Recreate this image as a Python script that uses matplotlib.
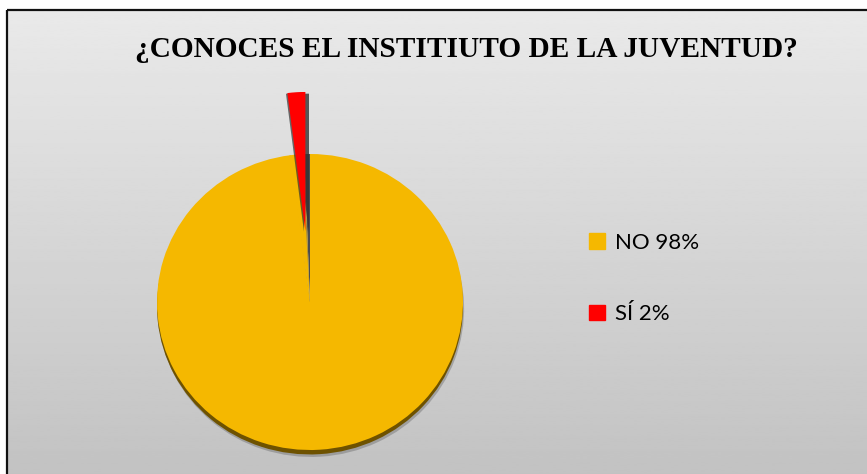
import numpy as np
import matplotlib
matplotlib.use("Agg")
import matplotlib.pyplot as plt
import matplotlib.patheffects as pe
from matplotlib.patches import Rectangle, Wedge

# survey answers
labels = ["SÍ 2%", "NO 98%"]
values = [2, 98]
colors = ["#ff0000", "#f5b800"]
legend_order = [1, 0]
title = "¿CONOCES EL INSTITIUTO DE LA JUVENTUD?"

W, H = 867, 474
fig = plt.figure(figsize=(W / 100, H / 100), dpi=100)
fig.patch.set_facecolor("white")

# gray gradient panel with a dark frame on top/left
bg = fig.add_axes([0, 0, 1, 1])
bg.set_xlim(0, W)
bg.set_ylim(H, 0)
bg.axis("off")
grad = np.linspace(0.915, 0.76, 256).reshape(-1, 1)
bg.imshow(grad, cmap="gray", vmin=0, vmax=1, aspect="auto",
          extent=(7, W + 5, H + 5, 10), zorder=0)
bg.add_patch(Rectangle((7, 10), W, H, fill=False, edgecolor="#111111",
                       linewidth=1.6, zorder=1))

bg.text(466, 49, title, ha="center", va="center", fontsize=21.2,
        fontweight="bold", family="Liberation Serif", color="black")

# pie, slightly squashed vertically
cx, cy, rx, ry = 310, 302, 153, 148
box = 260
ax = fig.add_axes([(cx - box) / W, 1 - (cy + box) / H, 2 * box / W, 2 * box / H])
wedges, _ = ax.pie(values, colors=colors, startangle=90, counterclock=True,
                   explode=[0.48, 0], wedgeprops=dict(linewidth=0))
ax.set_aspect("auto")
ax.set_xlim(-box / rx, box / rx)
ax.set_ylim(-box / ry, box / ry)
ax.axis("off")

# gap left behind by the pulled-out slice: the yellow side wall hides
# most of it, leaving a dark seam next to the slice edge
t1, t2 = wedges[0].theta1, wedges[0].theta2
ax.add_patch(Wedge((0, 0), 1, t1, t1 + 2.2, facecolor="#4d4d4d",
                   linewidth=0, zorder=2))
ax.add_patch(Wedge((0, 0), 1, t1 + 2.2, t2 + 0.5, facecolor=colors[1],
                   linewidth=0, zorder=2))
ax.add_patch(Wedge((0, 0), 1, t1 + 2.2, t1 + 3.0, facecolor="#6a6a6a",
                   linewidth=0, alpha=0.6, zorder=2))

wedges[0].set_radius(0.94)
wedges[0].set_zorder(3)
wedges[0].set_path_effects([
    pe.SimplePatchShadow(offset=(2.6, -1.2), shadow_rgbFace="#333333", alpha=0.8),
    pe.SimplePatchShadow(offset=(-1.0, -0.5), shadow_rgbFace="#333333", alpha=0.7),
    pe.Normal()])
wedges[1].set_path_effects([
    pe.SimplePatchShadow(offset=(0.8, -5), shadow_rgbFace="#555555", alpha=0.35),
    pe.SimplePatchShadow(offset=(0, -3.2), shadow_rgbFace="#6e5200", alpha=1),
    pe.Normal()])

# legend
handles = [Rectangle((0, 0), 1, 1, color=colors[i]) for i in legend_order]
bg.legend(handles, [labels[i] for i in legend_order], loc="upper left",
          bbox_to_anchor=(569 / W, 1 - 213 / H), frameon=False,
          prop={"family": "Lato", "size": 16}, handlelength=0.7,
          handleheight=0.7, handletextpad=0.45, labelspacing=2.3)

fig.savefig("out.png", dpi=100)
